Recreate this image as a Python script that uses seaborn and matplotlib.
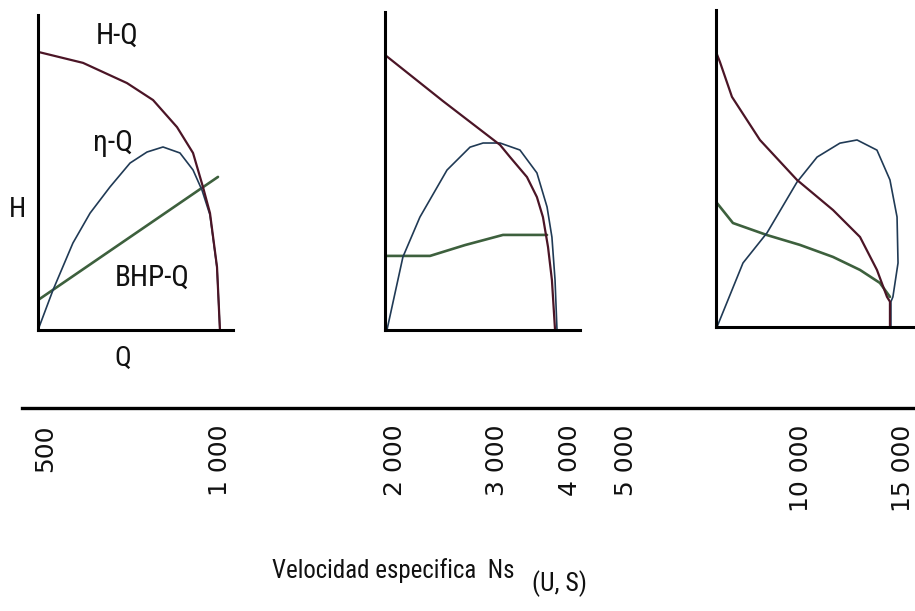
import matplotlib
matplotlib.use("Agg")
import matplotlib.pyplot as plt
from matplotlib import font_manager as fm
import seaborn as sns

# Curvas caracteristicas de tres bombas (Q y H en % del marco de cada panel)
# Panel 1: bomba radial (Ns bajo)
q_hq_1 = [0, 23.1, 45.6, 59.0, 71.3, 79.5, 84.6, 88.2, 91.8, 93.3]
h_hq_1 = [88.3, 84.8, 78.4, 73.0, 64.4, 56.2, 45.4, 37.1, 20.0, 0]
q_eta_1 = [0, 7.7, 17.9, 26.7, 36.9, 47.2, 55.9, 64.1, 72.8, 79.5, 84.1, 88.2, 91.8, 93.3]
h_eta_1 = [0, 12.7, 27.6, 37.1, 45.4, 53.0, 56.5, 58.1, 56.2, 50.8, 44.4, 36.5, 19.7, 0]
q_bhp_1 = [0, 92.3]
h_bhp_1 = [9.5, 48.6]

# Panel 2: bomba de flujo mixto
q_hq_2 = [0, 29.7, 59.0, 64.1, 72.8, 77.9, 81.0, 83.6, 85.6, 87.2]
h_hq_2 = [86.5, 72.0, 58.2, 54.4, 48.1, 41.8, 35.5, 26.1, 15.7, 0]
q_eta_2 = [1.0, 9.2, 17.9, 31.8, 43.6, 50.3, 59.0, 69.2, 77.9, 83.1, 85.6, 87.2, 88.2]
h_eta_2 = [0, 23.0, 35.5, 50.3, 57.5, 58.8, 58.8, 56.6, 49.4, 38.7, 29.2, 15.7, 0]
q_bhp_2 = [0, 23.1, 41.0, 60.5, 83.1]
h_bhp_2 = [23.3, 23.3, 26.7, 29.9, 29.9]

# Panel 3: bomba axial (Ns alto)
q_hq_3 = [0, 2.0, 8.1, 22.3, 41.1, 59.4, 73.1, 81.7, 86.8, 88.3, 88.3]
h_hq_3 = [86.8, 83.6, 72.6, 59.0, 46.4, 36.9, 28.4, 18.0, 9.5, 8.0, 0]
q_eta_3 = [0.5, 13.7, 25.9, 41.1, 51.3, 62.9, 71.6, 81.7, 88.3, 91.9, 92.4, 89.8, 88.8, 88.8]
h_eta_3 = [0, 20.2, 29.7, 45.7, 53.6, 58.0, 59.0, 55.8, 46.4, 34.7, 20.2, 9.5, 8.0, 0]
q_bhp_3 = [0.5, 8.6, 25.9, 42.6, 59.4, 73.1, 83.2, 88.3]
h_bhp_3 = [39.1, 32.8, 29.0, 25.9, 22.1, 18.0, 13.9, 9.5]

# Escala de velocidad especifica
ns_ticks = [500, 1000, 2000, 3000, 4000, 5000, 10000, 15000]
ns_labels = ["500", "1 000", "2 000", "3 000", "4 000", "5 000", "10 000", "15 000"]

sns.set_theme(style="white")

# buscar una fuente estrecha, si la hay
names = {f.name for f in fm.fontManager.ttflist}
stretch = "normal"
if "Liberation Sans Narrow" in names:
    narrow = "Liberation Sans Narrow"
elif "Roboto Condensed" in names:
    narrow = "Roboto Condensed"
elif any(f.name == "DejaVu Sans" and f.stretch == "condensed" for f in fm.fontManager.ttflist):
    narrow, stretch = "DejaVu Sans", "condensed"
else:
    narrow = "Liberation Sans"
plt.rcParams["font.family"] = [narrow, "DejaVu Sans"]

c_hq = "#4b1526"
c_eta = "#203a55"
c_bhp = "#3d603d"

fig = plt.figure(figsize=(9.15, 6.11), dpi=100)
W, H = 915, 611
renderer = fig.canvas.get_renderer()


def fit_width(t, target_px):
    # ajusta el tamano para que el texto ocupe el ancho del original
    w = t.get_window_extent(renderer).width
    t.set_fontsize(t.get_fontsize() * target_px / w)


# marcos de los paneles en pixeles: (izq, der, abajo, arriba)
frames = [(38, 233, 330, 15), (385, 580, 330, 12), (716, 913, 327, 10)]
curves = [
    (q_hq_1, h_hq_1, q_eta_1, h_eta_1, q_bhp_1, h_bhp_1),
    (q_hq_2, h_hq_2, q_eta_2, h_eta_2, q_bhp_2, h_bhp_2),
    (q_hq_3, h_hq_3, q_eta_3, h_eta_3, q_bhp_3, h_bhp_3),
]

axes = []
for (x0, x1, yb, yt), (qh, hh, qe, he, qb, hb) in zip(frames, curves):
    ax = fig.add_axes([x0 / W, 1 - yb / H, (x1 - x0) / W, (yb - yt) / H])
    sns.lineplot(x=qb, y=hb, sort=False, estimator=None, color=c_bhp, lw=1.9, ax=ax)
    sns.lineplot(x=qe, y=he, sort=False, estimator=None, color=c_eta, lw=1.2, ax=ax)
    sns.lineplot(x=qh, y=hh, sort=False, estimator=None, color=c_hq, lw=1.6, ax=ax)
    ax.set_xlim(0, 100)
    ax.set_ylim(0, 100)
    ax.set_xticks([])
    ax.set_yticks([])
    ax.set_xlabel("")
    ax.set_ylabel("")
    sns.despine(ax=ax)
    for s in ["left", "bottom"]:
        ax.spines[s].set_linewidth(2.2)
        ax.spines[s].set_color("black")
    ax.patch.set_alpha(0)
    axes.append(ax)

# etiquetas del primer panel
ax1 = axes[0]
txt = dict(fontsize=20, fontstretch=stretch, color="#111111", ha="center", va="center", clip_on=False)
t_hq = ax1.text(40.5, 93.3, "H-Q", **txt)
t_eta = ax1.text(38.5, 59.4, "η-Q", **txt)
t_bhp = ax1.text(58.5, 16.5, "BHP-Q", **txt)
ax1.text(-10.3, 38.1, "H", **txt)
ax1.text(43.6, -8.9, "Q", **txt)
fit_width(t_hq, 43)
fit_width(t_eta, 40)
fit_width(t_bhp, 75)

# eje de velocidad especifica (escala logaritmica)
ax_ns = fig.add_axes([22 / W, 1 - 408 / H, (W - 22) / W, 0.01])
ax_ns.set_xscale("log")
ax_ns.set_xlim(456, 15700)
ax_ns.set_yticks([])
ax_ns.set_xticks(ns_ticks)
ax_ns.set_xticklabels(ns_labels, rotation=90, fontsize=18, family="DejaVu Sans", color="#111111")
ax_ns.minorticks_off()
ax_ns.tick_params(axis="x", length=0, pad=12)
sns.despine(ax=ax_ns, left=True)
ax_ns.spines["bottom"].set_linewidth(2.4)
ax_ns.spines["bottom"].set_color("black")
ax_ns.patch.set_alpha(0)

t_lab = fig.text(272 / W, 1 - 578 / H, "Velocidad especifica  Ns", fontsize=21,
                 fontstretch=stretch, ha="left", va="baseline", color="#111111")
t_us = fig.text(532 / W, 1 - 591 / H, "(U, S)", fontsize=21,
                fontstretch=stretch, ha="left", va="baseline", color="#111111")
fit_width(t_lab, 243)
fit_width(t_us, 55)

fig.savefig("out.png", dpi=100, facecolor="white")
